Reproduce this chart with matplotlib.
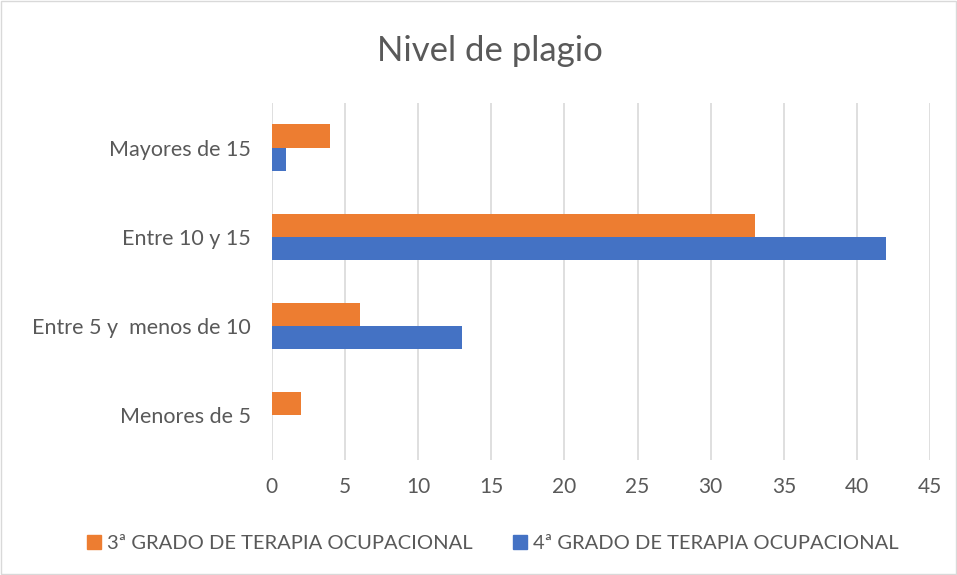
import numpy as np
import matplotlib.pyplot as plt
from matplotlib.patches import Patch

categories = ['Menores de 5', 'Entre 5 y  menos de 10', 'Entre 10 y 15', 'Mayores de 15']
tercero = [2, 6, 33, 4]
cuarto = [0, 13, 42, 1]
labels = ['3ª GRADO DE TERAPIA OCUPACIONAL', '4ª GRADO DE TERAPIA OCUPACIONAL']

orange = '#ED7D31'
blue = '#4472C4'
txt = '#595959'

plt.rcParams['font.family'] = ['Lato', 'DejaVu Sans']

fig = plt.figure(figsize=(9.57, 5.75), dpi=100)
ax = fig.add_axes([0.284, 0.2, 0.688, 0.621])

y = np.arange(len(categories))
h = 0.26
ax.barh(y + h / 2, tercero, height=h, color=orange, zorder=3)
ax.barh(y - h / 2, cuarto, height=h, color=blue, zorder=3)

ax.set_xlim(0, 45)
ax.set_ylim(-0.5, len(categories) - 0.5)
ax.set_xticks(range(0, 46, 5))
ax.set_yticks(y)
ax.set_yticklabels(categories)
ax.tick_params(axis='x', length=0, labelsize=15, colors=txt, pad=12)
ax.tick_params(axis='y', length=0, labelsize=15.5, colors=txt, pad=15)
ax.grid(axis='x', color='#d9d9d9', linewidth=1.2, zorder=0)
for s in ax.spines.values():
    s.set_visible(False)

fig.text(0.512, 0.912, 'Nivel de plagio', ha='center', va='center', fontsize=25, color=txt)

handles = [Patch(color=orange), Patch(color=blue)]
fig.legend(handles, labels, loc='center', bbox_to_anchor=(0.515, 0.054), ncol=2, frameon=False,
           fontsize=14.5, labelcolor=txt, handlelength=0.7, handleheight=0.7, handletextpad=0.3,
           columnspacing=2.0)

fig.patches.append(plt.Rectangle((0.001, 0.001), 0.998, 0.998, transform=fig.transFigure,
                                 fill=False, edgecolor='#d9d9d9', linewidth=1))

fig.savefig('out.png', dpi=100)
